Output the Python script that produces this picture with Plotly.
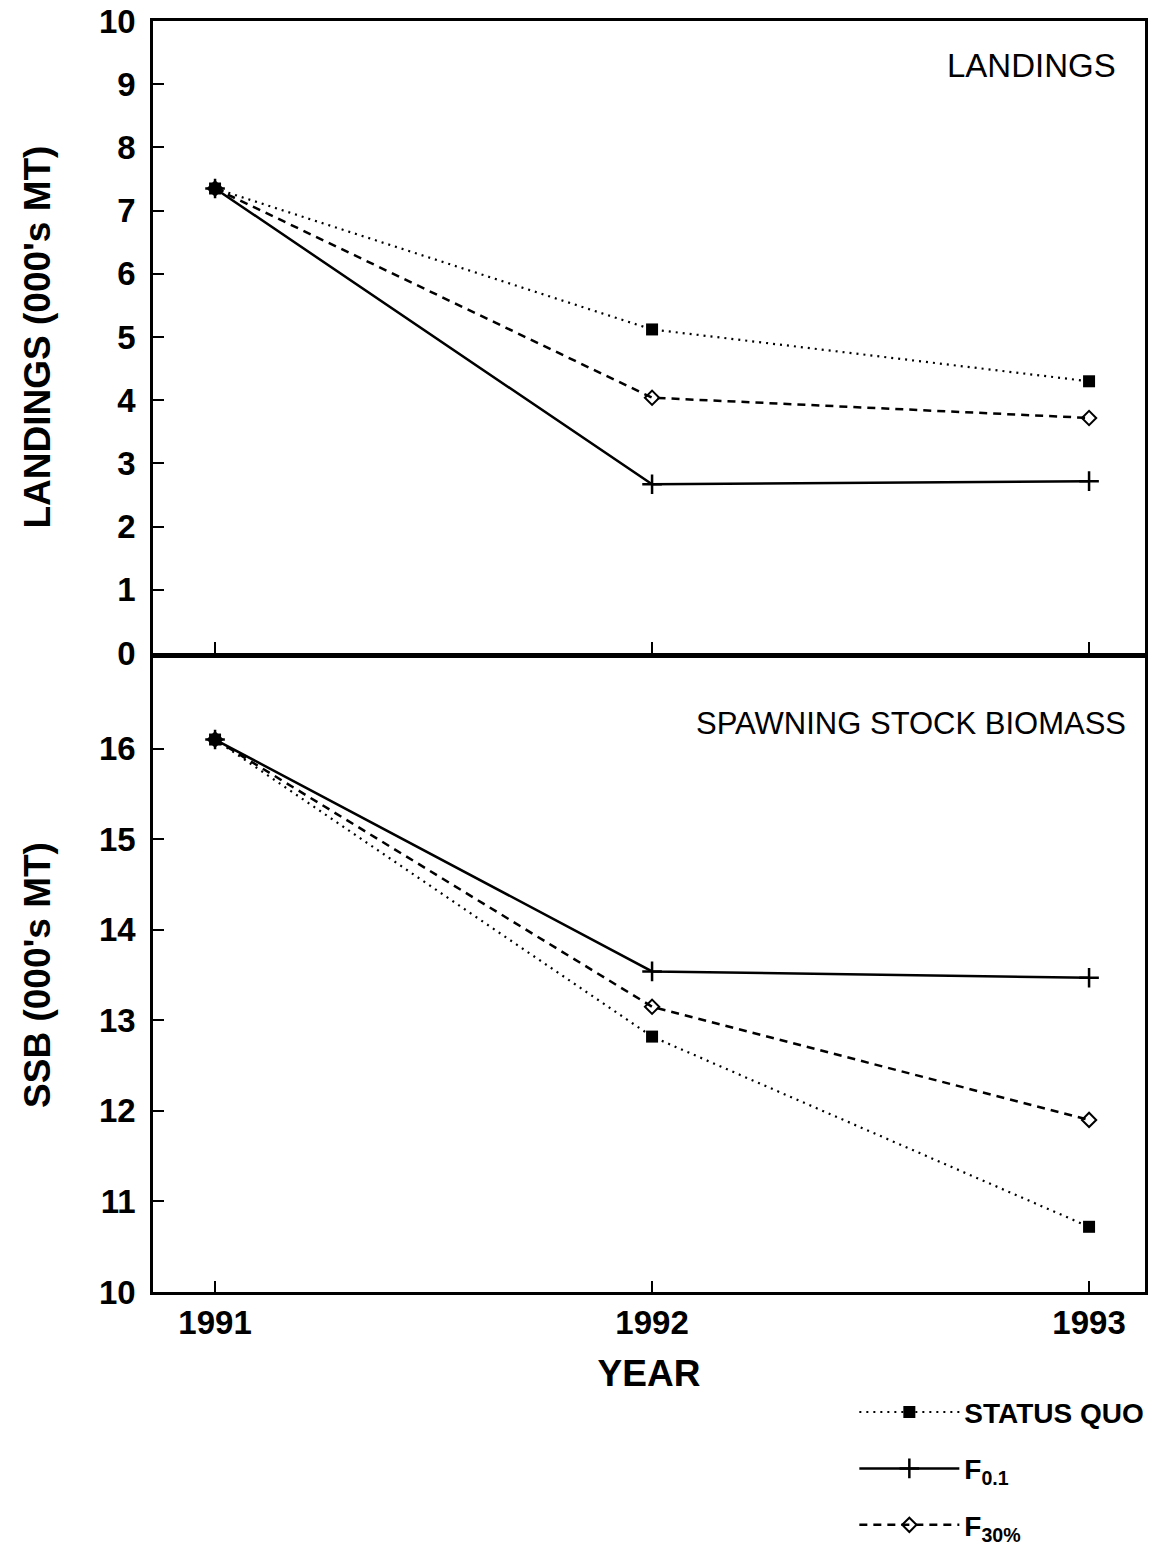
import plotly.graph_objects as go

years = [1991, 1992, 1993]
land_sq = [7.35, 5.12, 4.30]
land_f01 = [7.35, 2.67, 2.72]
land_f30 = [7.35, 4.04, 3.72]
ssb_sq = [16.1, 12.82, 10.72]
ssb_f01 = [16.1, 13.54, 13.47]
ssb_f30 = [16.1, 13.15, 11.90]

names = {"sq": "STATUS QUO", "f01": "F<sub>0.1</sub>", "f30": "F<sub>30%</sub>"}
FONT = "Liberation Sans, Arial, sans-serif"

styles = {
    "sq": dict(line=dict(color="black", width=2.2, dash="2px,5px"),
               marker=dict(symbol="square", size=12, color="black")),
    "f01": dict(line=dict(color="black", width=2.5, dash="solid"),
                marker=dict(symbol="cross-thin", size=14, color="black",
                            line=dict(color="black", width=2.5))),
    "f30": dict(line=dict(color="black", width=2.5, dash="8px,6px"),
                marker=dict(symbol="diamond-open", size=11, color="black",
                            line=dict(color="black", width=2))),
}
rank = {"sq": 1, "f01": 2, "f30": 3}

fig = go.Figure()
for key, yv_top, yv_bot in [("f30", land_f30, ssb_f30), ("f01", land_f01, ssb_f01), ("sq", land_sq, ssb_sq)]:
    fig.add_trace(go.Scatter(x=years, y=yv_top, mode="lines+markers", name=names[key],
                             legendgroup=key, legendrank=rank[key], showlegend=True,
                             xaxis="x", yaxis="y", **styles[key]))
    fig.add_trace(go.Scatter(x=years, y=yv_bot, mode="lines+markers", name=names[key],
                             legendgroup=key, showlegend=False,
                             xaxis="x2", yaxis="y2", **styles[key]))

axis_common = dict(showline=True, linecolor="black", linewidth=2.5, mirror=True,
                   ticks="inside", ticklen=11, tickwidth=2, tickcolor="black",
                   showgrid=False, zeroline=False, automargin=False,
                   ticklabeloverflow="allow",
                   tickfont=dict(family=FONT, size=33, color="black", weight="bold"))

xr = [1990.858, 1993.128]
fig.update_layout(
    width=1156, height=1554,
    margin=dict(l=145, r=19, t=13, b=270, autoexpand=False),
    paper_bgcolor="white", plot_bgcolor="white",
    xaxis=dict(axis_common, range=xr, tickvals=years, showticklabels=False,
               anchor="y", matches="x2"),
    xaxis2=dict(axis_common, range=xr, tickvals=years, anchor="y2",
                ticklabelstandoff=0,
                title=dict(text="YEAR", standoff=20,
                           font=dict(family=FONT, size=37, color="black", weight="bold"))),
    yaxis=dict(axis_common, range=[0, 10], dtick=1, domain=[0.5027, 1.0], anchor="x",
               ticklabelstandoff=8,
               title=dict(text="LANDINGS (000's MT)", standoff=37,
                          font=dict(family=FONT, size=37, color="black", weight="bold"))),
    yaxis2=dict(axis_common, range=[10, 17], tickvals=[10, 11, 12, 13, 14, 15, 16],
                domain=[0, 0.4988], anchor="x2", ticklabelstandoff=8,
                title=dict(text="SSB (000's MT)", standoff=37,
                           font=dict(family=FONT, size=37, color="black", weight="bold"))),
    legend=dict(x=0.707, xanchor="left", y=-0.075, yanchor="top",
                itemwidth=100, tracegroupgap=17, bgcolor="rgba(0,0,0,0)",
                font=dict(family=FONT, size=28, color="black", weight="bold")),
    annotations=[
        dict(text="LANDINGS", xref="x domain", yref="y domain", x=0.973, y=0.929,
             xanchor="right", yanchor="middle", showarrow=False,
             font=dict(family=FONT, size=33, color="black")),
        dict(text="SPAWNING STOCK BIOMASS", xref="x2 domain", yref="y2 domain",
             x=0.983, y=0.897, xanchor="right", yanchor="middle", showarrow=False,
             font=dict(family=FONT, size=31, color="black")),
    ],
)

fig.write_html("out.html")
